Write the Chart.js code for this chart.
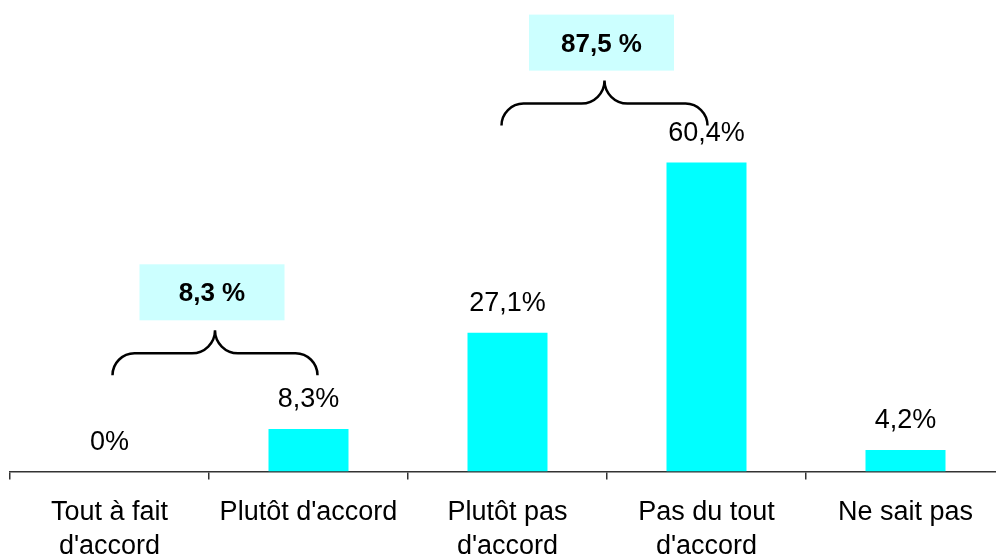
<!DOCTYPE html>
<html>
<head>
<meta charset="utf-8">
<script src="https://cdn.jsdelivr.net/npm/chart.js@4/dist/chart.umd.min.js"></script>
<style>
  html, body { margin: 0; padding: 0; background: #fff; overflow: hidden; }
  #wrap { width: 1010px; height: 579px; position: relative; }
</style>
</head>
<body>
<div id="wrap"><canvas id="chart"></canvas></div>
<script>
// Réponses à la question (en %)
const categories = [
  ['Tout à fait', "d'accord"],
  ["Plutôt d'accord"],
  ['Plutôt pas', "d'accord"],
  ['Pas du tout', "d'accord"],
  ['Ne sait pas']
];
const values = [0, 8.3, 27.1, 60.4, 4.2];

// regroupements affichés avec une accolade : indices des catégories couvertes
const groupAccord = [0, 1];
const groupDesaccord = [2, 3];

const FONT = 'Arial, "Liberation Sans", sans-serif';
const fmt = v => String(v).replace('.', ',');

// étiquettes de valeur au-dessus des barres
const valueLabels = {
  id: 'valueLabels',
  afterDatasetsDraw(chart) {
    const ctx = chart.ctx;
    const meta = chart.getDatasetMeta(0);
    ctx.save();
    ctx.font = '27px ' + FONT;
    ctx.fillStyle = '#000';
    ctx.textAlign = 'center';
    ctx.textBaseline = 'middle';
    meta.data.forEach((bar, i) => {
      ctx.fillText(fmt(values[i]) + '%', bar.x, bar.y - 29);
    });
    ctx.restore();
  }
};

// accolades + encadré du total
const braces = {
  id: 'braces',
  afterDraw(chart, args, opts) {
    const ctx = chart.ctx;
    const x = chart.scales.x, y = chart.scales.y;
    opts.groups.forEach(g => {
      const total = g.idx.reduce((s, i) => s + values[i], 0);
      const x1 = x.getPixelForValue(g.idx[0]) + g.dx[0];
      const x2 = x.getPixelForValue(g.idx[g.idx.length - 1]) + g.dx[1];
      const xm = (x1 + x2) / 2;
      const yb = y.getPixelForValue(g.level);
      const r = 22;
      const yh = yb - r;
      const yp = yh - 23;

      ctx.save();
      ctx.strokeStyle = '#000';
      ctx.lineWidth = 2.5;
      ctx.beginPath();
      ctx.moveTo(x1, yb);
      ctx.arcTo(x1, yh, x1 + r, yh, r);
      ctx.lineTo(xm - r, yh);
      ctx.arcTo(xm, yh, xm, yp, 23);
      ctx.moveTo(xm, yp);
      ctx.arcTo(xm, yh, xm + r, yh, 23);
      ctx.lineTo(x2 - r, yh);
      ctx.arcTo(x2, yh, x2, yb, r);
      ctx.stroke();

      // encadré
      const bw = 145, bh = 56;
      const bx = xm - 3 - bw / 2;
      const by = yp - 10 - bh;
      ctx.fillStyle = '#CCFFFF';
      ctx.fillRect(bx, by, bw, bh);
      ctx.fillStyle = '#000';
      ctx.font = 'bold 26px ' + FONT;
      ctx.textAlign = 'center';
      ctx.textBaseline = 'middle';
      ctx.fillText(fmt(Math.round(total * 10) / 10) + ' %', bx + bw / 2, by + bh / 2 + 2);
      ctx.restore();
    });
  }
};

new Chart(document.getElementById('chart'), {
  type: 'bar',
  data: {
    labels: categories,
    datasets: [{
      data: values,
      backgroundColor: '#00FFFF',
      borderWidth: 0,
      barPercentage: 0.402,
      categoryPercentage: 1
    }]
  },
  options: {
    responsive: true,
    maintainAspectRatio: false,
    animation: false,
    layout: { padding: { left: 10, right: 5, top: 11, bottom: 0 } },
    plugins: {
      legend: { display: false },
      tooltip: { enabled: false },
      braces: {
        groups: [
          { idx: groupAccord, level: 18.8, dx: [3, 9] },
          { idx: groupDesaccord, level: 67.6, dx: [-6, 1] }
        ]
      }
    },
    scales: {
      y: { display: false, min: 0, max: 90 },
      x: {
        border: { display: true, color: '#333', width: 1.5 },
        grid: {
          offset: true,
          drawOnChartArea: false,
          drawTicks: true,
          tickLength: 8,
          color: '#333',
          lineWidth: 1.5
        },
        ticks: {
          color: '#000',
          padding: 16,
          maxRotation: 0,
          autoSkip: false,
          font: { family: FONT, size: 27, lineHeight: 1.25 }
        }
      }
    }
  },
  plugins: [valueLabels, braces]
});
</script>
</body>
</html>
